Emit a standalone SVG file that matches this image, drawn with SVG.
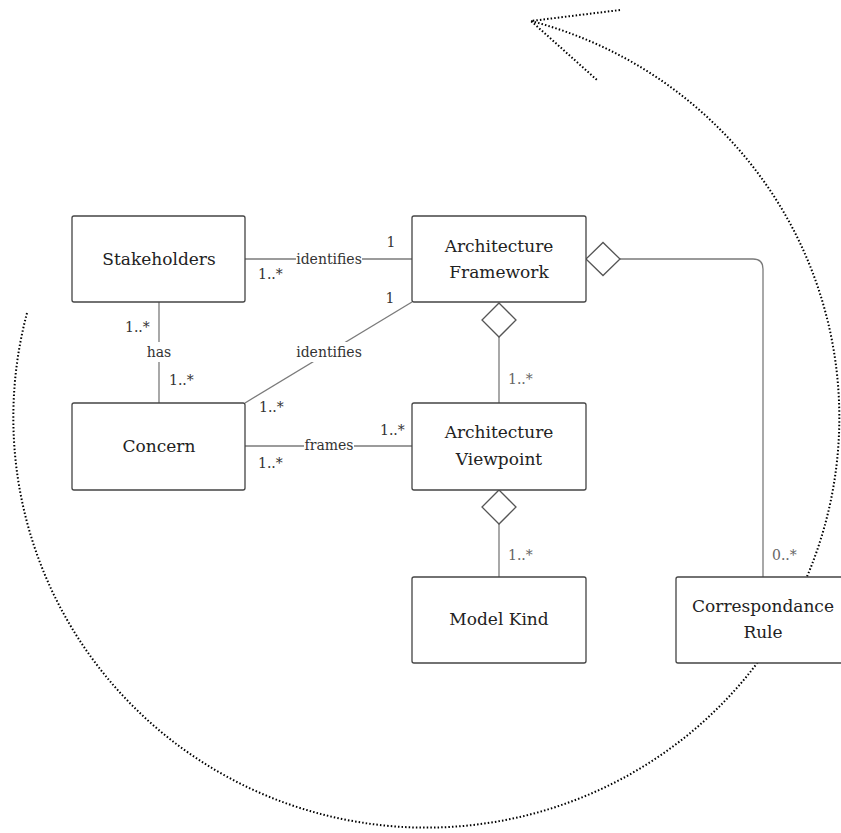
<svg xmlns="http://www.w3.org/2000/svg" width="841" height="833" viewBox="0 0 841 833">
  <style>
    .box { fill: #fff; stroke: #444; stroke-width: 1.3; }
    .conn { fill: none; stroke: #7a7a7a; stroke-width: 1.3; }
    .diamond { fill: #fff; stroke: #555; stroke-width: 1.3; }
    .cycle { fill: none; stroke: #000; stroke-width: 2; stroke-dasharray: 1.5 2.1; }
    text { font-family: 'DejaVu Serif', 'Liberation Serif', serif; }
    .name { font-size: 17px; fill: #222; text-anchor: middle; }
    .lbl { font-size: 14px; fill: #333; }
    .mult { font-size: 14px; fill: #666; }
    .mid { text-anchor: middle; }
  </style>

  <!-- dotted cycle arrow around the model -->
  <g id="cycle">
    <path class="cycle" d="M 27 313 A 413 410 0 1 0 531 21"/>
    <path class="cycle" d="M 620 10 L 531 21 L 597 80"/>
  </g>

  <!-- connectors -->
  <g id="connectors">
    <line class="conn" x1="245" y1="259" x2="412" y2="259"/>
    <line class="conn" x1="159" y1="302" x2="159" y2="403"/>
    <line class="conn" x1="245" y1="403" x2="412" y2="302"/>
    <line class="conn" x1="245" y1="446" x2="412" y2="446"/>
    <line class="conn" x1="499" y1="336" x2="499" y2="403"/>
    <line class="conn" x1="499" y1="523" x2="499" y2="577"/>
    <path class="conn" d="M 620 259 L 753 259 Q 763 259 763 269 L 763 577"/>
    <polygon class="diamond" points="499,303 516,320 499,337 482,320"/>
    <polygon class="diamond" points="499,490 516,507 499,524 482,507"/>
    <polygon class="diamond" points="586,259 603,242.5 620,259 603,275.5"/>

    <!-- association labels with white backing -->
    <rect x="296" y="250" width="66" height="18" fill="#fff"/>
    <text class="lbl mid" x="329" y="264">identifies</text>
    <rect x="144" y="342" width="30" height="20" fill="#fff"/>
    <text class="lbl mid" x="159" y="357">has</text>
    <rect x="294" y="342" width="70" height="20" fill="#fff"/>
    <text class="lbl mid" x="329" y="357">identifies</text>
    <rect x="304" y="437" width="50" height="18" fill="#fff"/>
    <text class="lbl mid" x="329" y="450">frames</text>

    <!-- multiplicities -->
    <text class="lbl" x="258" y="279">1..*</text>
    <text class="lbl mid" x="391" y="247">1</text>
    <text class="lbl" x="125" y="332">1..*</text>
    <text class="lbl" x="169" y="385">1..*</text>
    <text class="lbl mid" x="390" y="303">1</text>
    <text class="lbl" x="259" y="412">1..*</text>
    <text class="lbl" x="380" y="435">1..*</text>
    <text class="lbl" x="258" y="468">1..*</text>
    <text class="mult" x="508" y="384">1..*</text>
    <text class="mult" x="508" y="560">1..*</text>
    <text class="mult" x="772" y="560">0..*</text>
  </g>

  <g id="stakeholders">
    <rect class="box" x="72" y="216" width="173" height="86" rx="2"/>
    <text class="name" x="159" y="265">Stakeholders</text>
  </g>
  <g id="architecture-framework">
    <rect class="box" x="412" y="216" width="174" height="86" rx="2"/>
    <text class="name" x="499" y="252">Architecture</text>
    <text class="name" x="499" y="278">Framework</text>
  </g>
  <g id="concern">
    <rect class="box" x="72" y="403" width="173" height="87" rx="2"/>
    <text class="name" x="159" y="452">Concern</text>
  </g>
  <g id="architecture-viewpoint">
    <rect class="box" x="412" y="403" width="174" height="87" rx="2"/>
    <text class="name" x="499" y="438">Architecture</text>
    <text class="name" x="499" y="465">Viewpoint</text>
  </g>
  <g id="model-kind">
    <rect class="box" x="412" y="577" width="174" height="86" rx="2"/>
    <text class="name" x="499" y="625">Model Kind</text>
  </g>
  <g id="correspondance-rule">
    <rect class="box" x="676" y="577" width="174" height="86" rx="2"/>
    <text class="name" x="763" y="612">Correspondance</text>
    <text class="name" x="763" y="638">Rule</text>
  </g>
</svg>
